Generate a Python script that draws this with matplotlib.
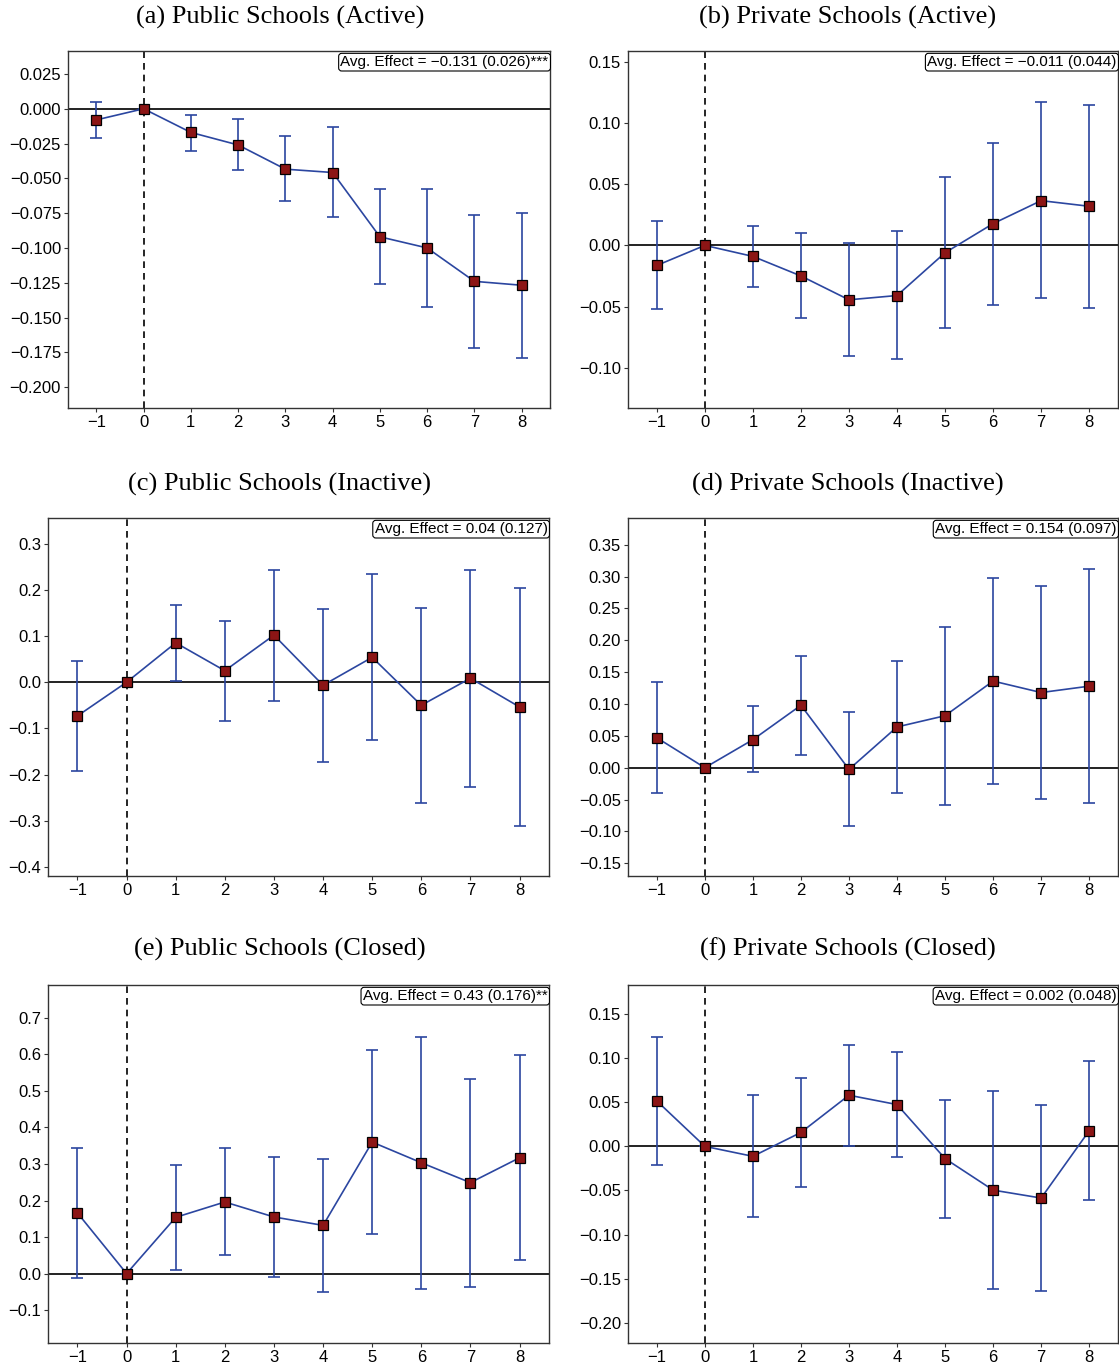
import matplotlib.pyplot as plt
import numpy as np

W, H = 1119, 1365
event_time = [-1, 0, 1, 2, 3, 4, 5, 6, 7, 8]

# (a) Public Schools (Active)
a_est = [-0.008, 0.0, -0.017, -0.026, -0.0434, -0.0458, -0.092, -0.100, -0.124, -0.1268]
a_hi = [0.005, 0.0, -0.0045, -0.0074, -0.0197, -0.0129, -0.058, -0.0575, -0.0762, -0.0748]
a_lo = [-0.021, 0.0, -0.030, -0.044, -0.0666, -0.078, -0.1256, -0.1424, -0.172, -0.179]

# (b) Private Schools (Active)
b_est = [-0.0164, 0.0, -0.009, -0.025, -0.0445, -0.041, -0.006, 0.0178, 0.0366, 0.032]
b_hi = [0.020, 0.0, 0.016, 0.0098, 0.002, 0.0115, 0.056, 0.0836, 0.117, 0.115]
b_lo = [-0.052, 0.0, -0.034, -0.0596, -0.0907, -0.093, -0.0675, -0.0486, -0.043, -0.051]

# (c) Public Schools (Inactive)
c_est = [-0.073, 0.0, 0.0855, 0.025, 0.102, -0.0065, 0.054, -0.050, 0.0087, -0.0536]
c_hi = [0.046, 0.0, 0.167, 0.133, 0.243, 0.159, 0.234, 0.162, 0.244, 0.205]
c_lo = [-0.193, 0.0, 0.003, -0.083, -0.041, -0.172, -0.125, -0.262, -0.227, -0.312]

# (d) Private Schools (Inactive)
d_est = [0.047, 0.0, 0.044, 0.098, -0.0026, 0.064, 0.0816, 0.136, 0.118, 0.128]
d_hi = [0.135, 0.0, 0.097, 0.176, 0.087, 0.168, 0.2216, 0.298, 0.285, 0.312]
d_lo = [-0.040, 0.0, -0.0074, 0.0205, -0.0916, -0.039, -0.0584, -0.025, -0.0495, -0.055]

# (e) Public Schools (Closed)
e_est = [0.166, 0.0, 0.154, 0.196, 0.155, 0.132, 0.360, 0.3035, 0.249, 0.317]
e_hi = [0.345, 0.0, 0.297, 0.343, 0.320, 0.315, 0.612, 0.648, 0.533, 0.598]
e_lo = [-0.013, 0.0, 0.011, 0.051, -0.009, -0.051, 0.1085, -0.041, -0.0356, 0.037]

# (f) Private Schools (Closed)
f_est = [0.0515, 0.0, -0.0113, 0.0158, 0.058, 0.0474, -0.0139, -0.0496, -0.0586, 0.0177]
f_hi = [0.124, 0.0, 0.058, 0.0774, 0.1147, 0.107, 0.053, 0.063, 0.047, 0.0966]
f_lo = [-0.0214, 0.0, -0.080, -0.0459, 0.0004, -0.012, -0.081, -0.162, -0.164, -0.061]

titles = ["(a) Public Schools (Active)", "(b) Private Schools (Active)",
          "(c) Public Schools (Inactive)", "(d) Private Schools (Inactive)",
          "(e) Public Schools (Closed)", "(f) Private Schools (Closed)"]
avg_labels = ["Avg. Effect = \u22120.131 (0.026)***", "Avg. Effect = \u22120.011 (0.044)",
              "Avg. Effect = 0.04 (0.127)", "Avg. Effect = 0.154 (0.097)",
              "Avg. Effect = 0.43 (0.176)**", "Avg. Effect = 0.002 (0.048)"]
yticks = [np.arange(-0.200, 0.026, 0.025), np.arange(-0.10, 0.151, 0.05),
          np.arange(-0.4, 0.31, 0.1), np.arange(-0.15, 0.351, 0.05),
          np.arange(-0.1, 0.71, 0.1), np.arange(-0.20, 0.151, 0.05)]
ylims = [(-0.215, 0.0415), (-0.133, 0.159), (-0.42, 0.356),
         (-0.170, 0.392), (-0.19, 0.79), (-0.223, 0.183)]
fmts = ["{:.3f}", "{:.2f}", "{:.1f}", "{:.2f}", "{:.1f}", "{:.2f}"]

series = [(a_est, a_lo, a_hi), (b_est, b_lo, b_hi), (c_est, c_lo, c_hi),
          (d_est, d_lo, d_hi), (e_est, e_lo, e_hi), (f_est, f_lo, f_hi)]

# pixel boxes (left, right, top, bottom)
boxes = [(68, 550, 51, 408), (628, 1118, 51, 408),
         (48, 549, 518, 876), (628, 1118, 518, 876),
         (48, 549, 985, 1343), (628, 1118, 985, 1343)]
title_y = [17, 17, 484, 484, 949, 949]
title_x = [280, 848]

plt.rcParams['font.family'] = ['Liberation Sans', 'DejaVu Sans']
fig = plt.figure(figsize=(W / 100, H / 100), dpi=100)

for i in range(6):
    l, r, t, b = boxes[i]
    ax = fig.add_axes([l / W, 1 - b / H, (r - l) / W, (b - t) / H])
    est, lo, hi = series[i]
    est = np.array(est)
    err = [est - np.array(lo), np.array(hi) - est]
    ax.axhline(0, color='#222222', lw=1.4, zorder=1)
    ax.axvline(0, color='black', lw=1.2, ls=(0, (4, 3)), zorder=1)
    ax.errorbar(event_time, est, yerr=err, color='#2b46a0', lw=1.2,
                elinewidth=1.2, capsize=4, capthick=1.2, zorder=2)
    ax.plot(event_time, est, ls='none', marker='s', ms=7.5,
            mfc='#8c1515', mec='black', mew=0.9, zorder=3)
    ax.set_xlim(-1.6, 8.6)
    ax.set_ylim(*ylims[i])
    ax.set_xticks(event_time)
    ax.set_xticklabels([str(v).replace('-', '\u2212') for v in event_time])
    ax.set_yticks(yticks[i])
    ax.set_yticklabels([fmts[i].format(v + 0.0).replace('-', '\u2212') if abs(v) > 1e-9
                        else fmts[i].format(0.0) for v in yticks[i]])
    ax.tick_params(labelsize=12, length=3, width=0.8, color='#333333', pad=2)
    for s in ax.spines.values():
        s.set_color('#333333')
        s.set_linewidth(1.0)
    ax.annotate(avg_labels[i], xy=(1, 1), xycoords='axes fraction',
                xytext=(-1, -3), textcoords='offset points', ha='right', va='top',
                fontsize=11,
                bbox=dict(boxstyle='round,pad=0.12,rounding_size=0.2', fc='white',
                          ec='black', lw=0.8))
    fig.text(title_x[i % 2] / W, 1 - title_y[i] / H, titles[i], ha='center', va='center',
             fontsize=19, family=['Liberation Serif', 'DejaVu Serif'])

fig.savefig('out.png', dpi=100)
